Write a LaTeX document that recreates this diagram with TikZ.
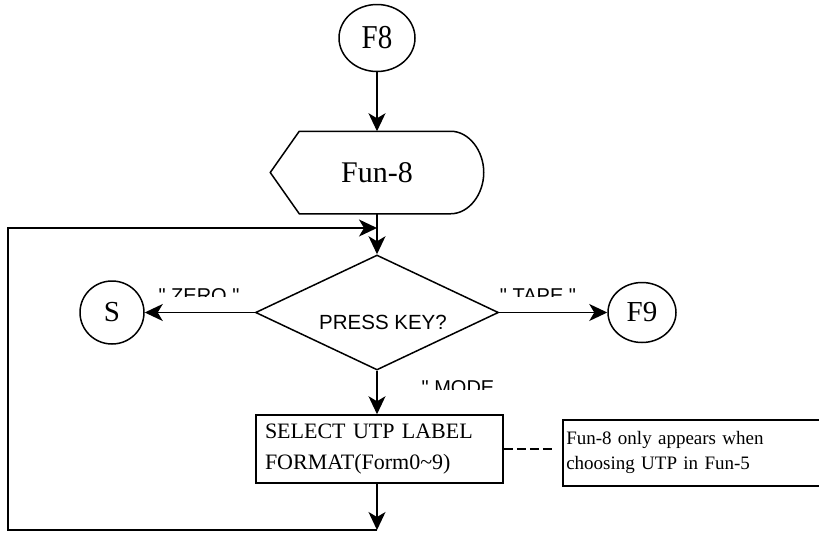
\documentclass[tikz,border=0pt]{standalone}
\usepackage{fontspec}
\setmainfont{Liberation Serif}
\newfontfamily\sansfont{Liberation Sans}
\usetikzlibrary{shapes.geometric,arrows.meta}
\tikzset{every node/.style={inner sep=0pt},
  term/.style={draw,ellipse,font=\fontsize{29}{34}\selectfont},
  flow/.style={-{Stealth[length=18pt,width=17pt,inset=5pt]}},
  keytext/.style={anchor=base,font=\sansfont\fontsize{20}{24}\selectfont}}

\begin{document}
\begin{tikzpicture}[x=1pt,y=-1pt,line width=1.5pt]
  \useasboundingbox (0,0) rectangle (819,541);
  \clip (0,0) rectangle (819,541);
  \node[term,minimum width=76pt,minimum height=67pt] (f8) at (377,38) {\scalebox{1}[1.15]{F8}};
  \node[minimum width=212pt,minimum height=81pt,font=\fontsize{30}{36}\selectfont] (fun) at (377,172.5) {Fun-8};
  \draw ([xshift=29pt]fun.north west) -- ([xshift=-33pt]fun.north east)
    .. controls ([xshift=-15pt]fun.north east) and ([yshift=22pt]fun.east) .. (fun.east)
    .. controls ([yshift=-22pt]fun.east) and ([xshift=-15pt]fun.south east) .. ([xshift=-33pt]fun.south east)
    -- ([xshift=29pt]fun.south west) -- (fun.west) -- cycle;
  \coordinate (merge) at (377,228);
  \node[diamond,draw,minimum width=243pt,minimum height=115pt,
    label={[xshift=6pt,yshift=-10pt,font=\sansfont\fontsize{20.5}{24}\selectfont]center:PRESS KEY?}] (key) at (377,312.5) {};
  \node[term,minimum width=64pt,minimum height=63pt] (s) at (112,312.5) {S};
  \node[term,minimum width=68pt,minimum height=60pt] (f9) at (642,312.5) {F9};
  \node[draw,minimum width=247pt,minimum height=68pt,text width=229pt,align=left,
    font=\fontsize{22}{31}\selectfont] (sel) at (379.5,449) {SELECT UTP LABEL\\FORMAT(Form0\textasciitilde 9)};
  \node[draw,anchor=north west,minimum width=262pt,minimum height=66pt,text width=255pt,align=left,
    font=\fontsize{19}{25}\selectfont] (note) at (562,419) {Fun-8 only appears when\\choosing UTP in Fun-5};
  \coordinate (rb) at (377,530);
  \coordinate (lb) at (8,530);
  \coordinate (lt) at (8,228);

  \draw[flow] (f8) -- (fun);
  \draw (fun) -- (merge);
  \draw[flow] (merge) -- (key);
  \draw[flow] (key) -- (s);
  \draw[flow] (key) -- (f9);
  \draw[flow] (key.south) -- (key.south |- sel.north);
  \draw[flow] (sel.south -| rb) -- (rb);
  \draw[flow] (rb) -- (lb) -- (lt) -- (merge);
  \draw[dash pattern=on 9pt off 4pt] (sel.east) -- ([xshift=-7pt]note.west |- sel.east);

  \begin{scope}
    \clip (0,0) rectangle (819,296);
    \node[keytext] (zero) at (199,302) {" ZERO "};
    \node[keytext] (tape) at (538,302) {" TAPE "};
  \end{scope}
  \begin{scope}
    \clip (0,0) rectangle (819,389);
    \node[keytext] (mode) at (458,394) {" MODE};
  \end{scope}
\end{tikzpicture}
\end{document}
